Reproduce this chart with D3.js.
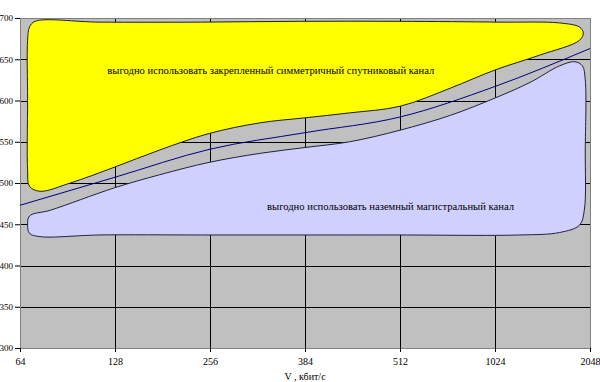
<!DOCTYPE html>
<html>
<head>
<meta charset="utf-8">
<script src="https://cdn.jsdelivr.net/npm/d3@7"></script>
<style>
  body { margin: 0; background: #fff; }
  svg { display: block; }
</style>
</head>
<body>
<svg id="chart" width="600" height="382"></svg>
<script>
var chartWidth = 600, chartHeight = 382;
var fontFamily = "Liberation Serif, DejaVu Serif, serif";

// categories on the x axis (kbit/s)
var categories = ["64", "128", "256", "384", "512", "1024", "2048"];
var yTicks = [300, 350, 400, 450, 500, 550, 600, 650, 700];

// boundary line between the two regions
var boundary = [473, 507, 541, 561, 580, 617, 663];

// hand-drawn regions: [category position, value]
var satelliteRegion = [
  [0.16, 696], [0.84, 695], [1.9, 695], [2.95, 696], [4.0, 696], [5.05, 695],
  [5.68, 694], [5.89, 689], [5.93, 682], [5.89, 673], [5.47, 655], [5.0, 637],
  [4.53, 615], [4.0, 593], [3.47, 585], [3.0, 579], [2.53, 573], [1.99, 560],
  [1.47, 540], [0.99, 519], [0.53, 500], [0.21, 490], [0.1, 496], [0.08, 516],
  [0.08, 600], [0.08, 673], [0.1, 689]
];
var groundRegion = [
  [0.1, 460], [0.32, 467], [0.99, 494], [1.47, 510], [1.99, 525], [2.53, 536],
  [3.0, 543], [3.47, 550], [4.0, 564], [4.53, 582], [5.0, 603], [5.37, 622],
  [5.68, 642], [5.84, 647], [5.92, 642], [5.95, 625], [5.95, 540], [5.94, 467],
  [5.89, 449], [5.68, 440], [5.26, 437], [4.0, 437], [2.95, 437], [1.9, 437],
  [0.84, 437], [0.21, 435], [0.1, 439], [0.08, 449]
];

var satelliteLabel = "выгодно использовать закрепленный симметричный спутниковый канал";
var groundLabel = "выгодно использовать наземный магистральный канал";
var xTitle = "V , кбит/с";

var margin = {top: 18, right: 10, bottom: 34, left: 20};
var plotW = chartWidth - margin.left - margin.right;
var plotH = chartHeight - margin.top - margin.bottom;

var svg = d3.select("#chart");
var g = svg.append("g").attr("transform", "translate(" + margin.left + "," + margin.top + ")");

var x = d3.scaleLinear().domain([0, categories.length - 1]).range([0, plotW]);
var y = d3.scaleLinear().domain([300, 700]).range([plotH, 0]);

// plot area
g.append("rect")
  .attr("width", plotW).attr("height", plotH)
  .style("fill", "#c0c0c0");

// gridlines
g.append("g").selectAll("line.h")
  .data(yTicks)
  .enter().append("line")
  .attr("x1", 0).attr("x2", plotW)
  .attr("y1", function(d) { return Math.round(y(d)) + 0.5; })
  .attr("y2", function(d) { return Math.round(y(d)) + 0.5; })
  .style("stroke", "#000").style("stroke-width", 1);

g.append("g").selectAll("line.v")
  .data(categories)
  .enter().append("line")
  .attr("y1", 0).attr("y2", plotH)
  .attr("x1", function(d, i) { return Math.round(x(i)) + 0.5; })
  .attr("x2", function(d, i) { return Math.round(x(i)) + 0.5; })
  .style("stroke", "#000").style("stroke-width", 1);

g.append("rect")
  .attr("x", 0.5).attr("y", 0.5)
  .attr("width", plotW).attr("height", plotH)
  .style("fill", "none").style("stroke", "#808080");

// boundary line
var line = d3.line()
  .x(function(d, i) { return x(i); })
  .y(function(d) { return y(d); })
  .curve(d3.curveMonotoneX);

g.append("path")
  .datum(boundary)
  .attr("d", line)
  .style("fill", "none").style("stroke", "#000080").style("stroke-width", 1);

// regions
var blob = d3.line()
  .x(function(d) { return x(d[0]); })
  .y(function(d) { return y(d[1]); })
  .curve(d3.curveCatmullRomClosed.alpha(0.5));

g.append("path")
  .datum(satelliteRegion)
  .attr("d", blob)
  .style("fill", "#ffff00").style("stroke", "#202020").style("stroke-width", 1);

g.append("path")
  .datum(groundRegion)
  .attr("d", blob)
  .style("fill", "#d0d0ff").style("stroke", "#202040").style("stroke-width", 1);

g.append("text")
  .attr("x", x(2.64)).attr("y", y(632))
  .attr("text-anchor", "middle")
  .attr("font-family", fontFamily)
  .attr("font-size", 10.6)
  .text(satelliteLabel);

g.append("text")
  .attr("x", x(3.9)).attr("y", y(467))
  .attr("text-anchor", "middle")
  .attr("font-family", fontFamily)
  .attr("font-size", 10.6)
  .text(groundLabel);

// axes
var yAxis = d3.axisLeft(y).tickValues(yTicks).tickSize(5).tickPadding(2);
var yg = g.append("g").call(yAxis)
  .attr("font-family", fontFamily).attr("font-size", 9);
yg.select(".domain").remove();
yg.selectAll("text").style("fill", "#000");
yg.selectAll("line").style("stroke", "#000");

var xAxis = d3.axisBottom(x).tickValues(d3.range(categories.length))
  .tickFormat(function(i) { return categories[i]; })
  .tickSize(4).tickPadding(6);
var xg = g.append("g").attr("transform", "translate(0," + plotH + ")").call(xAxis)
  .attr("font-family", fontFamily).attr("font-size", 10);
xg.select(".domain").remove();
xg.selectAll("text").style("fill", "#000");
xg.selectAll("line").style("stroke", "#000");

svg.append("text")
  .attr("x", margin.left + x(3)).attr("y", 380)
  .attr("text-anchor", "middle")
  .attr("font-family", fontFamily)
  .attr("font-size", 10)
  .text(xTitle);
</script>
</body>
</html>
